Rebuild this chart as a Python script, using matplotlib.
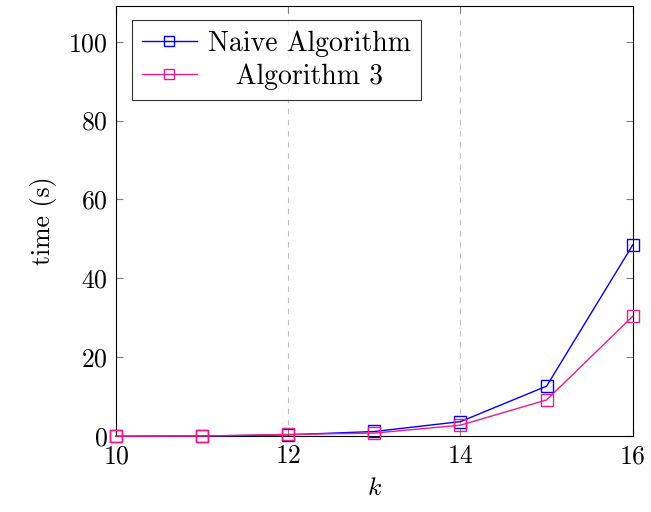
import matplotlib
matplotlib.use('Agg')
import matplotlib.pyplot as plt

plt.rcParams['font.family'] = 'cmr10'
plt.rcParams['mathtext.fontset'] = 'cm'
plt.rcParams['axes.formatter.use_mathtext'] = True

k = [10, 11, 12, 13, 14, 15, 16]
naive = [0.0, 0.05, 0.35, 1.2, 3.7, 12.7, 48.5]
alg3 = [0.0, 0.05, 0.45, 0.8, 2.8, 9.2, 30.4]
xticks = [10, 12, 14, 16]
yticks = [0, 20, 40, 60, 80, 100]

fig = plt.figure(figsize=(6.51, 5.12), dpi=100)
ax = fig.add_axes([0.178, 0.148, 0.794, 0.840])

ax.plot(k, naive, color='#0000ff', lw=1.0, marker='s', ms=9, mfc='none',
        mew=1.0, label='Naive Algorithm', clip_on=False, zorder=3)
ax.plot(k, alg3, color='#ec1c8c', lw=1.0, marker='s', ms=9, mfc='none',
        mew=1.0, label='   Algorithm 3', clip_on=False, zorder=3)

ax.set_xlim(10, 16)
ax.set_ylim(0, 109)
ax.set_xticks(xticks)
ax.set_yticks(yticks)
ax.tick_params(direction='in', top=True, right=True, length=5, width=0.8,
               color='#808080', labelsize=18.5, pad=6)
ax.xaxis.grid(True, linestyle=(0, (5, 5)), color='#c0c0c0', lw=0.8)
for s in ax.spines.values():
    s.set_linewidth(0.8)

ax.set_xlabel('$k$', fontsize=18.5, labelpad=6)
ax.set_ylabel('time (s)', fontsize=18.5, labelpad=8)

leg = ax.legend(loc='upper left', fontsize=20, frameon=True, fancybox=False,
                edgecolor='black', borderpad=0.35, handlelength=2.0,
                handletextpad=0.4, labelspacing=0.25, borderaxespad=0,
                markerscale=0.75, bbox_to_anchor=(0.031, 0.967))
leg.get_frame().set_linewidth(0.8)

fig.savefig('out.png', dpi=100)
